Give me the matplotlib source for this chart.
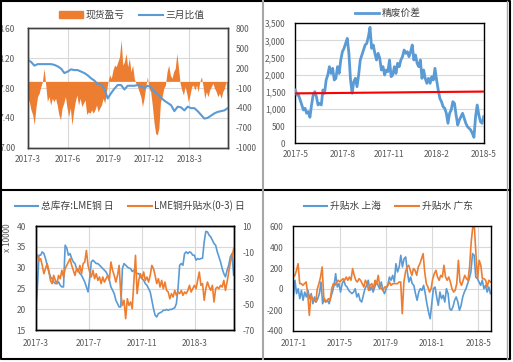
import matplotlib
matplotlib.use("Agg")
import matplotlib.pyplot as plt
import numpy as np
from matplotlib.lines import Line2D
from matplotlib.patches import Patch

plt.rcParams["font.family"] = ["Noto Sans CJK SC", "DejaVu Sans"]
plt.rcParams["axes.unicode_minus"] = False

BLUE = "#5b9bd5"
ORANGE = "#ed7d31"
TXT = "#595959"
GRID = "#d9d9d9"

# ---- panel 1: 现货盈亏 / 三月比值 (months since 2017-3) ----
p1_xticklabels = ["2017-3", "2017-6", "2017-9", "2017-12", "2018-3"]
p1_ratio = [8.175, 8.15, 8.10, 8.12, 8.12, 8.12, 8.12, 8.12, 8.11, 8.09,
            8.06, 8.00, 8.02, 8.05, 8.04, 8.04, 8.02, 8.00, 7.97, 7.93,
            7.90, 7.85, 7.85, 7.79, 7.66, 7.73, 7.79, 7.84, 7.84, 7.78,
            7.83, 7.83, 7.83, 7.84, 7.82, 7.80, 7.83, 7.81, 7.75, 7.72,
            7.67, 7.63, 7.60, 7.57, 7.49, 7.55, 7.54, 7.50, 7.55, 7.53,
            7.53, 7.49, 7.44, 7.39, 7.40, 7.43, 7.46, 7.48, 7.49, 7.50, 7.53]
p1_profit = [-256, -306, -430, -500, -650, -400, -230, -180, -80, 0,
             196, -55, -306, -230, -357, -256, -306, -256, -357, -500,
             -580, -400, -330, -230, -400, -530, -400, -660, -460, -306,
             -206, -357, -256, -380, -330, -280, -500, -460, -480, -430,
             -480, -430, -357, -460, -400, -357, -256, -330, -156, 0,
             95, 45, 170, 246, 221, 296, 372, 630, 246, 296,
             422, 221, 347, 146, 246, 45, -30, -80, -156, -230,
             -380, -256, -80, 70, -106, -156, -357, -608, -784, -808,
             -708, -306, -230, -106, -55, 146, 246, 95, 45, 146,
             196, 422, 196, -30, -130, -206, -80, -180, -306, -206,
             -80, -55, -130, -55, -156, 0, 70, -80, -256, -156,
             -230, -130, -80, -30, -106, -156, -230, -180, -256, -156,
             -106, 0, -380]

# ---- panel 2: 精废价差 (months since 2017-5) ----
p2_xticklabels = ["2017-5", "2017-8", "2017-11", "2018-2", "2018-5"]
p2_spread = [1555, 1410, 1410, 1263, 1118, 972, 1020, 875, 923, 758,
             1118, 1410, 1506, 1360, 1118, 1166, 1118, 1555, 1458, 1846,
             1992, 2235, 2040, 2187, 1846, 1895, 2235, 2040, 2430, 2672,
             2770, 2915, 3061, 2624, 1846, 1458, 1798, 1895, 1652, 1992,
             2430, 2575, 2721, 2867, 2915, 3110, 3382, 2770, 2867, 2624,
             2430, 2624, 2478, 2138, 2235, 1992, 2138, 2090, 2430, 1943,
             1992, 2235, 2040, 2333, 2235, 2430, 2527, 2721, 2624, 2672,
             2527, 2672, 2867, 2430, 2575, 2333, 2235, 2430, 1895, 2138,
             1895, 1749, 1895, 1749, 1943, 1846, 2187, 1846, 1555, 1312,
             1215, 1069, 1020, 875, 583, 875, 972, 1215, 1166, 826,
             534, 680, 777, 875, 729, 583, 486, 437, 389, 292,
             175, 777, 1118, 826, 632, 583, 777]
p2_trend = [1455, 1510]

# ---- panel 3: LME stock / spread (months since 2017-3) ----
p3_xticklabels = ["2017-3", "2017-7", "2017-11", "2018-3"]
p3_stock = [19.4, 25.0, 33.0, 33.0, 33.8, 33.4, 32.2, 30.6, 29.0, 27.8,
            27.4, 26.6, 26.2, 26.2, 26.6, 25.8, 25.4, 25.4, 35.4, 34.7,
            33.0, 33.4, 32.2, 31.4, 31.0, 29.8, 29.4, 28.6, 28.2, 27.4,
            26.6, 25.4, 24.2, 27.4, 31.4, 31.8, 31.4, 31.0, 31.0, 30.6,
            30.2, 29.8, 29.4, 29.0, 28.2, 27.0, 25.4, 24.6, 23.8, 22.2,
            21.4, 20.6, 20.6, 29.8, 31.0, 30.6, 30.2, 29.9, 29.8, 29.1,
            29.4, 29.0, 28.6, 28.6, 27.8, 27.4, 27.0, 26.2, 25.8, 25.0,
            24.2, 22.2, 20.2, 18.6, 18.2, 19.0, 19.2, 19.4, 19.8, 19.8,
            20.0, 19.8, 20.0, 20.0, 20.2, 20.4, 21.4, 25.0, 30.6, 31.0,
            30.6, 33.4, 33.8, 33.4, 33.8, 33.6, 33.0, 33.0, 31.8, 32.2,
            32.0, 32.2, 32.3, 36.2, 38.7, 38.6, 37.8, 37.4, 36.6, 35.8,
            35.4, 33.8, 32.6, 31.4, 29.8, 28.6, 27.8, 29.4, 30.6, 32.6,
            33.4, 28.2]
p3_basis = [-11.2, -12.5, -16.3, -15.1, -20.2, -26.6, -22.7, -18.9, -24.0, -31.7,
            -34.2, -27.9, -31.7, -34.2, -27.9, -30.4, -24.0, -29.1, -22.7, -20.2,
            -17.6, -15.1, -20.2, -24.0, -27.9, -22.7, -25.3, -20.2, -26.6, -18.9,
            -17.6, -8.7, -20.2, -25.3, -29.1, -24.0, -30.4, -26.6, -31.7, -29.1,
            -34.2, -29.1, -33.0, -30.4, -27.9, -31.7, -17.6, -24.0, -27.9, -33.0,
            -27.9, -20.2, -41.9, -50.9, -47.0, -61.1, -45.8, -50.9, -48.3, -53.4,
            -33.0, -12.5, -41.9, -31.7, -26.6, -30.4, -25.3, -31.7, -29.1, -33.0,
            -27.9, -20.2, -22.7, -27.9, -34.2, -30.4, -36.8, -31.7, -38.1, -33.0,
            -39.4, -40.6, -45.8, -41.9, -44.5, -39.4, -43.2, -40.6, -41.9, -39.4,
            -43.2, -40.6, -41.9, -39.4, -35.5, -40.6, -38.1, -35.5, -38.1, -31.7,
            -25.3, -35.5, -34.2, -47.0, -38.1, -33.0, -36.8, -39.4, -35.5, -48.3,
            -38.1, -36.8, -38.1, -35.5, -36.8, -31.7, -39.4, -33.0, -25.3, -17.6,
            -13.8, -7.4]

# ---- panel 4: 升贴水 上海 / 广东 (months since 2017-1) ----
p4_xticklabels = ["2017-1", "2017-5", "2017-9", "2018-1", "2018-5"]
p4_shanghai = [-92, 83, -44, 3, -92, -13, -108, -29, -76, -13,
               -92, -44, -140, -76, -124, -92, -44, 67, -140, -92,
               -124, -108, -140, -76, -29, 35, 146, 19, 51, -29,
               51, 83, 35, 19, -13, -29, -44, -29, 3, -76,
               -44, -108, -124, -60, 3, 35, 83, -13, 19, -29,
               19, 67, 35, 3, 67, -13, -44, 3, 35, 114,
               83, 130, 67, 241, 162, 210, 321, 210, 289, 305,
               162, 67, 114, 51, 35, -44, -108, -29, 3, -13,
               35, -44, -140, -219, -283, -140, 3, 19, -76, -156,
               -29, -92, -60, -124, 3, -44, -187, -203, -171, -108,
               -76, -124, -203, -156, -76, -29, 3, 51, 98, 162,
               337, 321, 114, 98, 67, 35, 83, 3, 35, -29,
               19, -44]
p4_guangdong = [114, 130, 178, 241, 51, 51, 35, 51, 67, -44,
                -251, -60, -92, -108, -124, 3, 51, 114, 210, -76,
                -124, -108, -92, -108, 3, 51, 35, 67, 83, 67,
                83, 98, 83, 114, 83, 114, 83, 194, 130, 83,
                67, 98, 83, 51, 19, 83, 51, -13, 35, 51,
                3, 83, 51, 130, 19, 3, -13, 19, 19, 35,
                67, 35, 51, 51, 51, 51, 67, 67, -235, 67,
                162, 210, 226, 178, 130, 194, 178, 130, 210, 241,
                289, 337, 162, 51, 19, -29, 3, 98, 146, 178,
                114, 83, 130, 114, 226, 114, 83, 114, 67, 3,
                -29, -13, 51, 273, 67, 35, 83, 130, 98, 83,
                210, 448, 591, 591, 321, 98, 273, 226, 98, 98,
                83, 19, 83, 67]

W, H = 513, 362


def rect(x0, y0, x1, y1):
    return [x0 / W, 1 - y1 / H, (x1 - x0) / W, (y1 - y0) / H]


def style(ax, spine="black"):
    for s in ax.spines.values():
        s.set_color(spine)
        s.set_linewidth(1.0)
    ax.tick_params(length=0, labelsize=6, colors=TXT)


def legend(ax, handles, labels, cx, cy):
    ax.legend(handles, labels, loc="center", bbox_to_anchor=(cx / W, 1 - cy / H),
              bbox_transform=fig.transFigure, ncol=2, frameon=False, fontsize=7,
              handlelength=2.4, columnspacing=1.5, handletextpad=0.3, labelcolor="#404040")


fig = plt.figure(figsize=(W / 100, H / 100), dpi=100)

# panel 1: orange area on the right axis, blue ratio on the left axis (drawn on top)
ax1 = fig.add_axes(rect(27.7, 28.3, 227.7, 147.7))
x1 = np.linspace(0, 14.85, len(p1_profit))
ax1.fill_between(x1, 0, p1_profit, color=ORANGE, lw=0, zorder=2)
ax1.set_xlim(0, 14.85)
ax1.set_ylim(-1000, 800)
ax1.set_xticks([0, 3, 6, 9, 12])
ax1.set_xticklabels(p1_xticklabels)
ax1.grid(axis="x", color=GRID, lw=0.8, zorder=0)
for v in [7.4, 7.8, 8.2]:
    ax1.axhline(-1000 + (v - 7.0) / 1.6 * 1800, color=GRID, lw=0.8, zorder=0)
ax1b = ax1.twinx()
ax1b.plot(np.linspace(0, 14.85, len(p1_ratio)), p1_ratio, color=BLUE, lw=1.5)
ax1b.set_ylim(7.0, 8.6)
ax1b.set_yticks([7.0, 7.4, 7.8, 8.2, 8.6])
ax1b.set_yticklabels(["7.00", "7.40", "7.80", "8.20", "8.60"])
ax1b.yaxis.tick_left()
ax1.yaxis.tick_right()
ax1.set_yticks(range(-1000, 801, 300))
style(ax1, "#404040")
style(ax1b, "#404040")
ax1.tick_params(axis="y", pad=6)
ax1.tick_params(axis="x", pad=5)
ax1b.tick_params(axis="y", pad=9)
legend(ax1b, [Patch(color=ORANGE), Line2D([], [], color=BLUE, lw=1.5)],
       ["现货盈亏", "三月比值"], 132, 15)

# panel 2
ax2 = fig.add_axes(rect(295.3, 23.3, 483.7, 143.3))
ax2.plot(np.linspace(0, 12, len(p2_spread)), p2_spread, color=BLUE, lw=2.0, zorder=3)
ax2.plot([0, 12], p2_trend, color="#ff0000", lw=1.5, zorder=4)
ax2.set_xlim(0, 12)
ax2.set_ylim(0, 3500)
ax2.set_yticks(range(0, 3501, 500))
ax2.set_yticklabels([f"{v:,}" for v in range(0, 3501, 500)])
ax2.set_xticks([0, 3, 6, 9, 12])
ax2.set_xticklabels(p2_xticklabels)
ax2.grid(axis="y", color=GRID, lw=0.8)
ax2.set_axisbelow(True)
style(ax2)
ax2.tick_params(axis="y", pad=7)
ax2.tick_params(axis="x", pad=5)
legend(ax2, [Line2D([], [], color=BLUE, lw=2.0)], ["精废价差"], 388, 13)

# panel 3
ax3 = fig.add_axes(rect(35.7, 226, 234.3, 330.3))
ax3.plot(np.linspace(0, 14.95, len(p3_stock)), p3_stock, color=BLUE, lw=1.2)
ax3.set_xlim(0, 15)
ax3.set_ylim(15, 40)
ax3.set_yticks(range(15, 41, 5))
ax3.set_xticks([0, 4, 8, 12])
ax3.set_xticklabels(p3_xticklabels)
ax3.grid(color=GRID, lw=0.8)
ax3.set_axisbelow(True)
ax3b = ax3.twinx()
ax3b.plot(np.linspace(0, 14.95, len(p3_basis)), p3_basis, color=ORANGE, lw=1.2)
ax3b.set_ylim(-70, 10)
ax3b.set_yticks(range(-70, 11, 20))
style(ax3)
style(ax3b)
ax3.tick_params(axis="y", pad=7)
ax3.tick_params(axis="x", pad=6)
ax3b.tick_params(axis="y", pad=6)
fig.text(8 / W, 1 - 238 / H, "x 10000", rotation=90, ha="center", va="center",
         fontsize=6, color=TXT)
legend(ax3b, [Line2D([], [], color=BLUE, lw=1.5), Line2D([], [], color=ORANGE, lw=1.5)],
       ["总库存:LME铜 日", "LME铜升贴水(0-3) 日"], 130, 206)

# panel 4
ax4 = fig.add_axes(rect(293.3, 226, 491, 331))
ax4.plot(np.linspace(0, 17.05, len(p4_shanghai)), p4_shanghai, color=BLUE, lw=1.2)
ax4.plot(np.linspace(0, 17.05, len(p4_guangdong)), p4_guangdong, color=ORANGE, lw=1.2)
ax4.set_xlim(0, 17.1)
ax4.set_ylim(-400, 600)
ax4.set_yticks(range(-400, 601, 200))
ax4.set_xticks([0, 4, 8, 12, 16])
ax4.set_xticklabels(p4_xticklabels)
ax4.grid(color=GRID, lw=0.8)
ax4.set_axisbelow(True)
style(ax4)
ax4.tick_params(axis="y", pad=7)
ax4.tick_params(axis="x", pad=6)
legend(ax4, [Line2D([], [], color=BLUE, lw=1.5), Line2D([], [], color=ORANGE, lw=1.5)],
       ["升贴水 上海", "升贴水 广东"], 388, 206)


# panel borders
def border(xs, ys, color, lw):
    fig.add_artist(Line2D([x / W for x in xs], [1 - y / H for y in ys],
                          transform=fig.transFigure, color=color, lw=lw))


border([1, 510, 510, 1, 1], [1, 1, 359, 359, 1], "black", 1.5)
border([1, 510], [190, 190], "black", 1.5)
border([263, 263], [1, 359], "#a6a6a6", 1.5)
border([507, 507], [1, 359], "#a6a6a6", 1.0)

fig.savefig("out.png", dpi=100)
